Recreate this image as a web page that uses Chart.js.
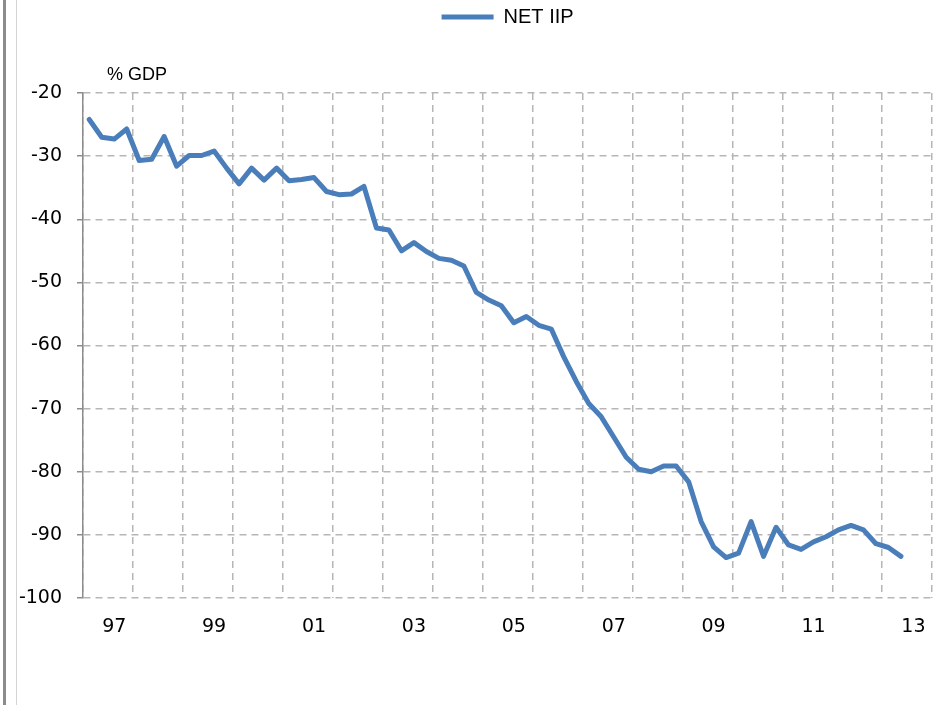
<!DOCTYPE html>
<html>
<head>
<meta charset="utf-8">
<title>NET IIP</title>
<script src="https://cdn.jsdelivr.net/npm/chart.js@4.4.1/dist/chart.umd.min.js"></script>
<style>
  html, body { margin: 0; padding: 0; background: #fff; }
  #wrap { position: relative; width: 944px; height: 705px; }
  #wrap canvas { position: absolute; left: 0; top: 0; }
  .edge-dark { position: absolute; left: 3px; top: 0; width: 3px; height: 705px; background: #8c8c8c; }
  .edge-light { position: absolute; left: 16px; top: 0; width: 1px; height: 705px; background: #d4d4d4; }
</style>
</head>
<body>
<div id="wrap">
  <div class="edge-dark"></div>
  <div class="edge-light"></div>
  <canvas id="iipChart"></canvas>
</div>
<script>
// years on the axis (one grid cell per year), quarterly data
const years = ['97', '98', '99', '00', '01', '02', '03', '04', '05', '06', '07', '08', '09', '10', '11', '12', '13'];
const quarters = ['Q1', 'Q2', 'Q3', 'Q4'];
const tickYears = ['97', '99', '01', '03', '05', '07', '09', '11', '13'];

// net international investment position, % of GDP, 1997Q1 - 2013Q2
const netIIP = [
  -24.2, -27.0, -27.3, -25.7, -30.7, -30.5, -26.9, -31.6,
  -29.9, -29.9, -29.2, -31.9, -34.4, -31.9, -33.8, -31.9,
  -33.9, -33.7, -33.4, -35.6, -36.1, -36.0, -34.8, -41.4,
  -41.7, -45.0, -43.7, -45.1, -46.2, -46.5, -47.4, -51.6,
  -52.8, -53.7, -56.4, -55.4, -56.8, -57.4, -61.8, -65.7,
  -69.2, -71.3, -74.5, -77.7, -79.6, -80.0, -79.1, -79.1,
  -81.6, -87.9, -91.9, -93.6, -92.9, -87.9, -93.4, -88.8,
  -91.6, -92.3, -91.1, -90.3, -89.2, -88.5, -89.2, -91.4,
  -92.0, -93.4
];

const categories = years.flatMap(y => quarters.map(q => y + q));

const gridColor = '#b6b6b6';
const axisColor = '#8c8c8c';
const lineColor = '#4a7ebb';

// "% GDP" unit note above the value axis
const unitLabel = {
  id: 'unitLabel',
  afterDraw(chart) {
    const { ctx, chartArea } = chart;
    ctx.save();
    ctx.font = '18px "Liberation Sans", Arial, sans-serif';
    ctx.fillStyle = '#000';
    ctx.textBaseline = 'alphabetic';
    ctx.fillText('% GDP', chartArea.left + 24, chartArea.top - 13);
    ctx.restore();
  }
};

// keep the legend band a fixed height so the plot starts where it should
const legendSpace = {
  id: 'legendSpace',
  beforeLayout(chart) {
    const lg = chart.legend;
    if (lg && !lg._patched) {
      const fit = lg.fit;
      lg.fit = function () {
        fit.call(this);
        this.height = 93;
      };
      lg._patched = true;
    }
  }
};

const ctx = document.getElementById('iipChart').getContext('2d');
new Chart(ctx, {
  type: 'line',
  data: {
    labels: categories,
    datasets: [{
      label: 'NET IIP',
      data: netIIP,
      borderColor: lineColor,
      backgroundColor: lineColor,
      borderWidth: 5,
      borderCapStyle: 'round',
      borderJoinStyle: 'round',
      pointRadius: 0,
      tension: 0,
      fill: false
    }]
  },
  options: {
    responsive: true,
    maintainAspectRatio: false,
    animation: false,
    layout: { padding: { left: 0, right: 11, top: 0, bottom: 0 } },
    plugins: {
      tooltip: { enabled: false },
      legend: {
        position: 'top',
        fullSize: false,
        labels: {
          boxWidth: 52,
          boxHeight: 5,
          padding: 7,
          color: '#000',
          font: { family: '"Liberation Sans", Arial, sans-serif', size: 20 },
          generateLabels: (chart) =>
            Chart.defaults.plugins.legend.labels.generateLabels(chart).map(l => ({ ...l, lineWidth: 0 }))
        }
      }
    },
    scales: {
      x: {
        type: 'category',
        offset: true,
        afterFit: (scale) => { scale.height = 107; },
        border: { display: false, dash: [7, 5] },
        grid: {
          offset: true,
          drawTicks: false,
          lineWidth: 1.5,
          color: (c) => (c.index === undefined || c.index % 4 === 0) ? gridColor : 'rgba(0,0,0,0)'
        },
        ticks: {
          autoSkip: false,
          maxRotation: 0,
          padding: 18,
          color: '#000',
          font: { family: '"DejaVu Sans", sans-serif', size: 19 },
          callback: function (value, index) {
            const lab = categories[index];
            const y = lab.slice(0, 2);
            return (lab.endsWith('Q3') && tickYears.includes(y)) ? y : '';
          }
        }
      },
      y: {
        min: -100,
        max: -20,
        afterFit: (scale) => { scale.width = 83; },
        border: { display: true, color: axisColor, width: 1.5, dash: [7, 5] },
        grid: {
          color: gridColor,
          lineWidth: 1.5,
          tickColor: axisColor,
          tickLength: 6,
          tickWidth: 1.5
        },
        ticks: {
          stepSize: 10,
          padding: 15,
          color: '#000',
          font: { family: '"DejaVu Sans", sans-serif', size: 19 }
        }
      }
    }
  },
  plugins: [unitLabel, legendSpace]
});
</script>
</body>
</html>
